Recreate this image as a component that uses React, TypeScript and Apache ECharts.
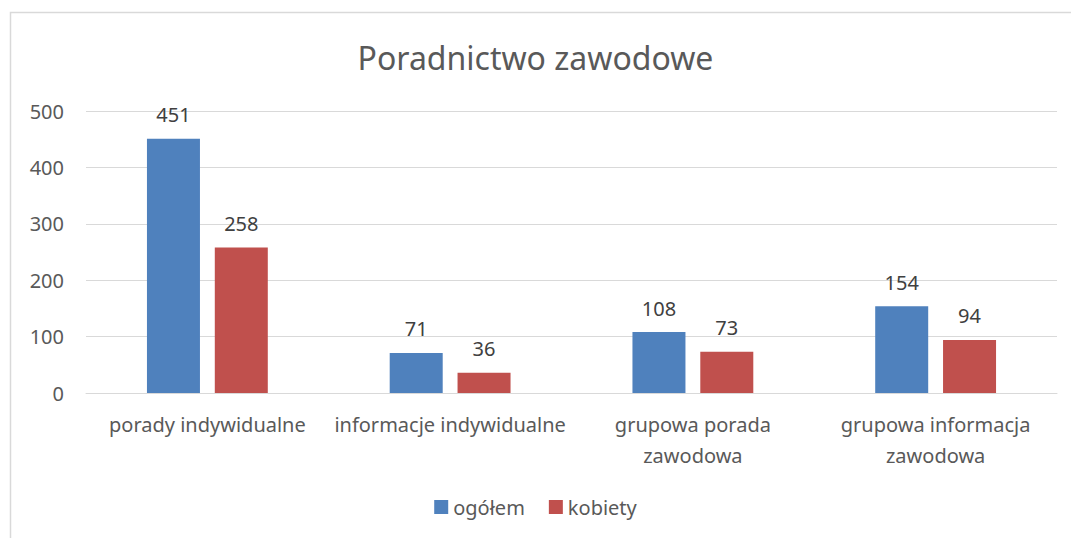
import React, { useEffect, useRef } from "react";
import * as echarts from "echarts";

const categories = [
  "porady indywidualne",
  "informacje indywidualne",
  "grupowa porada\nzawodowa",
  "grupowa informacja\nzawodowa",
];
const ogolem = [451, 71, 108, 154];
const kobiety = [258, 36, 73, 94];
const seriesNames = ["ogółem", "kobiety"];

const FONT = "'Noto Sans', 'Open Sans', sans-serif";
const TXT = "#595959";

export default function App() {
  const ref = useRef<HTMLDivElement>(null);
  useEffect(() => {
    if (!ref.current) return;
    const chart = echarts.init(ref.current, undefined, { renderer: "svg" });
    const label = {
      show: true,
      position: "top",
      distance: 14,
      color: "#404040",
      fontSize: 20,
      fontFamily: FONT,
    };
    chart.setOption({
      animation: false,
      backgroundColor: "#ffffff",
      textStyle: { fontFamily: FONT },
      title: {
        text: "Poradnictwo zawodowe",
        left: "center",
        top: 36,
        textStyle: { color: TXT, fontSize: 32, fontWeight: "normal", fontFamily: FONT },
      },
      graphic: [
        {
          type: "rect",
          shape: { x: 10.5, y: 12.5, width: 1100, height: 600 },
          style: { fill: "none", stroke: "#d9d9d9", lineWidth: 1.5 },
          silent: true,
        },
      ],
      legend: {
        bottom: 16,
        left: "center",
        itemWidth: 14,
        itemHeight: 14,
        itemGap: 24,
        icon: "rect",
        textStyle: { color: TXT, fontSize: 20, fontFamily: FONT },
        data: seriesNames,
      },
      grid: { left: 86, right: 14, top: 111, bottom: 145, containLabel: false },
      xAxis: {
        type: "category",
        data: categories,
        axisLine: { lineStyle: { color: "#d9d9d9", width: 1 } },
        axisTick: { show: false },
        axisLabel: {
          color: TXT,
          fontSize: 20,
          fontFamily: FONT,
          margin: 16,
          lineHeight: 31,
          interval: 0,
        },
      },
      yAxis: {
        type: "value",
        min: 0,
        max: 500,
        interval: 100,
        axisLine: { show: false },
        axisTick: { show: false },
        splitLine: { lineStyle: { color: "#d9d9d9", width: 1 } },
        axisLabel: { color: TXT, fontSize: 20, fontFamily: FONT, margin: 22 },
      },
      series: [
        {
          name: seriesNames[0],
          type: "bar",
          data: ogolem,
          barWidth: 53,
          barGap: "28%",
          itemStyle: { color: "#4f81bd" },
          label,
        },
        {
          name: seriesNames[1],
          type: "bar",
          data: kobiety,
          barWidth: 53,
          itemStyle: { color: "#c0504d" },
          label,
        },
      ],
    });
    return () => chart.dispose();
  }, []);
  return (
    <div
      ref={ref}
      style={{ position: "fixed", left: 0, top: 0, width: 1071, height: 538 }}
    />
  );
}
